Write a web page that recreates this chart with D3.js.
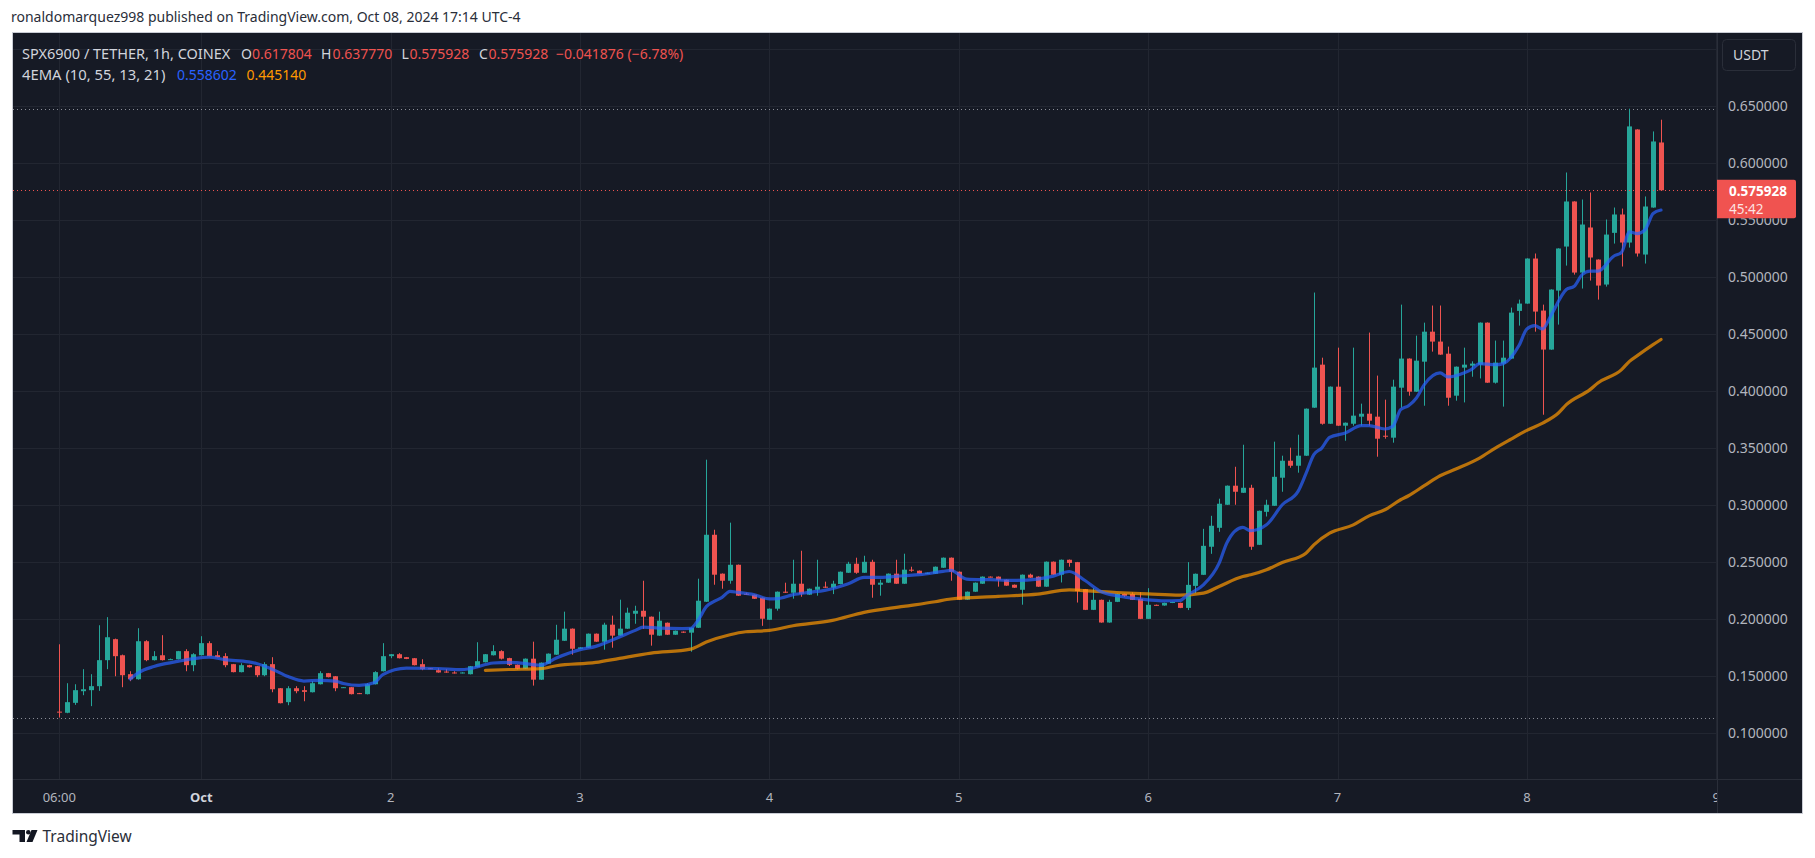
<!DOCTYPE html>
<html><head><meta charset="utf-8">
<script src="https://cdn.jsdelivr.net/npm/d3@7"></script>
<style>
html,body{margin:0;padding:0;background:#fff;overflow:hidden;}
svg{display:block;}
text{font-family:"Noto Sans",sans-serif;}
</style></head><body>
<svg id="c" width="1815" height="858"></svg>
<script>
// ---------- DATA (1h candles, SPX6900/USDT, from Sep 30 06:00) ----------
const startTime = Date.UTC(2024, 8, 30, 6);   // first candle
const hourMs = 3600e3;

const opens = [
.1190,.1180,.1267,.1369,.1378,.1413,.1641,.1825,.1684,.1518,
.1474,.1807,.1641,.1684,.1645,.1649,.1720,.1597,.1684,.1790,
.1684,.1676,.1606,.1536,.1597,.1588,.1509,.1606,.1395,.1273,
.1395,.1378,.1360,.1430,.1527,.1500,.1401,.1404,.1352,.1343,
.1430,.1544,.1676,.1693,.1667,.1658,.1606,.1570,.1553,.1541,
.1533,.1527,.1518,.1579,.1623,.1684,.1720,.1659,.1601,.1566,
.1654,.1470,.1610,.1689,.1811,.1917,.1741,.1750,.1873,.1803,
.1952,.1856,.1917,.2048,.2074,.2022,.1856,.1969,.1864,.1891,
.1882,.1925,.2153,.2740,.2399,.2337,.2477,.2223,.2214,.2188,
.1995,.2092,.2241,.2232,.2311,.2215,.2258,.2285,.2276,.2308,
.2407,.2486,.2407,.2503,.2302,.2320,.2399,.2311,.2434,.2425,
.2399,.2399,.2451,.2539,.2416,.2171,.2241,.2311,.2373,.2373,
.2346,.2302,.2258,.2390,.2373,.2285,.2504,.2390,.2521,.2500,
.2263,.2082,.2170,.1971,.2152,.2222,.2222,.2178,.2003,.2126,
.2120,.2143,.2143,.2099,.2292,.2389,.2635,.2801,.3003,.3170,
.3108,.3152,.2652,.2941,.2994,.3240,.3389,.3345,.3433,.3854,
.4231,.3713,.4038,.3696,.3713,.3775,.3801,.3775,.3608,.3591,
.4029,.4284,.3994,.4257,.4520,.4433,.4327,.3959,.4205,.4222,
.4231,.4599,.4073,.4240,.4284,.4702,.4766,.5161,.4705,.4363,
.4880,.5266,.5661,.5038,.5433,.5152,.4933,.5386,.5547,.5301,
.6292,.5196,.5608,.617804];

const highs = [
.1780,.1439,.1430,.1562,.1518,.1947,.2018,.1830,.1690,.1544,
.1921,.1816,.1720,.1860,.1655,.1722,.1737,.1702,.1851,.1807,
.1720,.1702,.1608,.1614,.1600,.1590,.1623,.1667,.1397,.1413,
.1413,.1413,.1457,.1544,.1529,.1502,.1406,.1406,.1354,.1439,
.1544,.1790,.1695,.1702,.1669,.1660,.1649,.1572,.1570,.1562,
.1544,.1535,.1590,.1798,.1695,.1772,.1728,.1662,.1603,.1656,
.1803,.1621,.1700,.1951,.2066,.1919,.1755,.1875,.1875,.1969,
.2031,.2171,.2101,.2118,.2337,.2024,.2066,.1971,.1901,.1893,
.1927,.2355,.3398,.2784,.2401,.2846,.2479,.2232,.2216,.2190,
.2094,.2243,.2320,.2521,.2600,.2269,.2521,.2329,.2337,.2418,
.2503,.2539,.2556,.2521,.2346,.2401,.2521,.2574,.2460,.2427,
.2409,.2462,.2541,.2541,.2418,.2243,.2322,.2375,.2375,.2375,
.2348,.2304,.2392,.2399,.2375,.2506,.2506,.2523,.2523,.2502,
.2265,.2272,.2172,.2170,.2224,.2224,.2236,.2236,.2272,.2128,
.2145,.2153,.2145,.2500,.2400,.2792,.2906,.3056,.3172,.3336,
.3529,.3178,.2952,.3047,.3556,.3433,.3503,.3617,.3847,.4863,
.4292,.4040,.4380,.3724,.4380,.3889,.4512,.4135,.3924,.4099,
.4757,.4286,.4485,.4599,.4749,.4749,.4389,.4215,.4380,.4260,
.4601,.4601,.4442,.4442,.4731,.4801,.5163,.5205,.4757,.4891,
.5251,.5915,.5663,.5678,.5740,.5154,.5503,.5608,.5599,.6474,
.6294,.5705,.6275,.637770];

const lows = [
.1138,.1176,.1249,.1334,.1238,.1372,.1562,.1500,.1404,.1457,
.1470,.1632,.1638,.1638,.1642,.1647,.1544,.1544,.1682,.1674,
.1665,.1579,.1534,.1534,.1576,.1492,.1500,.1360,.1262,.1246,
.1351,.1281,.1358,.1428,.1490,.1369,.1399,.1341,.1344,.1341,
.1428,.1542,.1658,.1656,.1650,.1595,.1553,.1563,.1531,.1531,
.1524,.1525,.1516,.1577,.1621,.1682,.1647,.1590,.1560,.1564,
.1418,.1468,.1608,.1687,.1809,.1689,.1739,.1748,.1801,.1733,
.1750,.1854,.1915,.1960,.1915,.1768,.1854,.1862,.1862,.1880,
.1715,.1923,.2151,.2302,.2267,.2311,.2204,.2212,.2177,.1942,
.1993,.2075,.2230,.2180,.2197,.2213,.2206,.2274,.2220,.2306,
.2405,.2398,.2405,.2188,.2206,.2318,.2309,.2309,.2416,.2397,
.2397,.2397,.2449,.2337,.2169,.2169,.2239,.2309,.2366,.2285,
.2292,.2274,.2127,.2362,.2283,.2283,.2388,.2322,.2460,.2146,
.2080,.2080,.1969,.1969,.2150,.2195,.2168,.2001,.2001,.2118,
.2118,.2141,.2097,.2080,.2228,.2387,.2573,.2766,.3001,.3003,
.3106,.2608,.2650,.2900,.2992,.3117,.3327,.3284,.3431,.3852,
.3705,.3711,.3694,.3564,.3696,.3696,.3696,.3424,.3582,.3547,
.3854,.3959,.3992,.3871,.4345,.4317,.3871,.3915,.3900,.4125,
.4110,.4071,.4065,.3863,.4282,.4573,.4764,.4520,.3792,.4361,
.4582,.5099,.5020,.4898,.4968,.4801,.4915,.5292,.5091,.5257,
.5178,.5117,.5606,.575928];

const closes = [
.1186,.1273,.1378,.1386,.1413,.1641,.1842,.1676,.1509,.1474,
.1807,.1641,.1676,.1641,.1650,.1720,.1597,.1693,.1790,.1676,
.1667,.1597,.1536,.1597,.1579,.1509,.1606,.1386,.1264,.1395,
.1369,.1363,.1439,.1527,.1492,.1395,.1404,.1343,.1346,.1430,
.1536,.1676,.1693,.1658,.1652,.1597,.1562,.1565,.1533,.1533,
.1527,.1533,.1588,.1632,.1693,.1720,.1654,.1600,.1566,.1654,
.1470,.1619,.1698,.1820,.1917,.1741,.1753,.1873,.1803,.1952,
.1856,.1917,.2057,.2074,.2022,.1864,.1987,.1864,.1899,.1882,
.1925,.2162,.2740,.2390,.2337,.2477,.2206,.2215,.2179,.2004,
.2092,.2241,.2232,.2311,.2223,.2267,.2285,.2276,.2311,.2416,
.2486,.2407,.2503,.2302,.2320,.2399,.2311,.2434,.2425,.2399,
.2407,.2460,.2539,.2416,.2171,.2241,.2320,.2373,.2368,.2346,
.2294,.2276,.2390,.2364,.2285,.2504,.2390,.2521,.2493,.2246,
.2082,.2170,.1971,.2152,.2222,.2205,.2170,.2003,.2126,.2120,
.2143,.2151,.2099,.2301,.2398,.2643,.2819,.3012,.3170,.3117,
.3152,.2635,.2950,.3003,.3248,.3389,.3345,.3433,.3845,.4205,
.3713,.4038,.3696,.3722,.3784,.3801,.3740,.3582,.3602,.4038,
.4284,.3994,.4266,.4520,.4433,.4319,.3941,.4213,.4231,.4240,
.4599,.4073,.4249,.4292,.4687,.4766,.5161,.4696,.4363,.4889,
.5249,.5661,.5038,.5459,.5170,.4924,.5371,.5547,.5301,.6319,
.5205,.5617,.6187,.575928];

// EMA(10): [candle index, value]
const emaFast = [
[9,.1476],[10,.1530],[12,.1585],[13,.1604],[15,.1630],[18,.1663],[19,.1668],[21,.1645],[24,.1626],[25,.1612],
[27,.1562],[29,.1497],[31,.1458],[33,.1464],[35,.1457],[36,.1437],[38,.1420],[40,.1446],[41,.1515],[44,.1572],
[48,.1568],[51,.1558],[52,.1566],[55,.1616],[57,.1622],[58,.1619],[61,.1598],[63,.1660],[66,.1733],[68,.1762],
[70,.1815],[73,.1902],[74,.1930],[76,.1922],[79,.1918],[80,.1919],[81,.1995],[82,.2110],[83,.2156],[84,.2191],
[85,.2244],[86,.2235],[88,.2215],[90,.2178],[91,.2180],[93,.2215],[95,.2235],[97,.2253],[100,.2311],[102,.2366],
[104,.2366],[107,.2381],[109,.2390],[112,.2419],[113,.2428],[115,.2352],[118,.2346],[121,.2340],[124,.2352],[126,.2378],
[128,.2418],[130,.2339],[132,.2243],[134,.2205],[136,.2184],[138,.2170],[140,.2161],[142,.2164],[143,.2213],[145,.2301],
[147,.2491],[148,.2673],[150,.2804],[151,.2775],[153,.2827],[155,.3003],[157,.3120],[158,.3275],[159,.3442],[160,.3500],
[161,.3594],[163,.3632],[165,.3696],[166,.3696],[168,.3667],[169,.3690],[170,.3836],[171,.3871],[172,.3939],[173,.4056],
[175,.4158],[176,.4123],[178,.4158],[179,.4190],[180,.4240],[182,.4230],[183,.4240],[185,.4398],[186,.4544],[187,.4573],
[188,.4544],[189,.4655],[191,.4889],[192,.4918],[193,.5020],[194,.5050],[195,.5050],[197,.5181],[198,.5216],[199,.5395],
[200,.5380],[201,.5415],[202,.5556],[203,.558602]];

// EMA(55): [candle index, value]
const emaSlow = [
[54,.1552],[57,.1559],[61,.1566],[63,.1592],[68,.1621],[71,.1657],[75,.1703],[80,.1738],[82,.1800],[85,.1864],
[87,.1890],[90,.1902],[93,.1943],[98,.1990],[102,.2060],[107,.2112],[111,.2153],[113,.2177],[119,.2200],[124,.2220],
[128,.2257],[130,.2251],[134,.2234],[138,.2222],[142,.2211],[145,.2228],[147,.2287],[150,.2374],[151,.2389],[153,.2433],
[155,.2497],[158,.2579],[159,.2652],[161,.2754],[164,.2827],[166,.2906],[168,.2959],[170,.3047],[171,.3082],[173,.3170],
[175,.3257],[177,.3316],[180,.3412],[182,.3500],[184,.3579],[186,.3655],[188,.3719],[190,.3807],[191,.3880],[194,.4012],
[195,.4070],[198,.4187],[199,.4260],[200,.4310],[202,.4406],[203,.445140]];

const priceTicks = [0.10,0.15,0.20,0.25,0.30,0.35,0.40,0.45,0.50,0.55,0.60,0.65];
const priceGrid  = [0.10,0.15,0.20,0.25,0.30,0.35,0.40,0.45,0.50,0.55,0.60,0.65,0.70];
const timeTicks = [Date.UTC(2024,8,30,6),Date.UTC(2024,9,1),Date.UTC(2024,9,2),Date.UTC(2024,9,3),Date.UTC(2024,9,4),
                   Date.UTC(2024,9,5),Date.UTC(2024,9,6),Date.UTC(2024,9,7),Date.UTC(2024,9,8),Date.UTC(2024,9,9)];
const timeLabels = ["06:00","Oct","2","3","4","5","6","7","8","9"];

const headerText = "ronaldomarquez998 published on TradingView.com, Oct 08, 2024 17:14 UTC-4";
const symbolText = "SPX6900 / TETHER, 1h, COINEX";
const emaTitle = "4EMA (10, 55, 13, 21)";
const lastPrice = 0.575928, countdown = "45:42";
const change = -0.041876, changePct = -6.78;

// ---------- LAYOUT ----------
const W = 1815, H = 858;
const panel = {x0: 13, y0: 33, x1: 1802, y1: 813};
const plot = {x0: 13, y0: 33, x1: 1717, y1: 779};
const col = {bg:"#161a25", grid:"#222631", sep:"#2a2e39", text:"#b2b5be", up:"#26a69a", down:"#ef5350",
             blue:"#2962ff", orange:"#ff9800"};

const times = opens.map((_, i) => new Date(startTime + i * hourMs));
const x = d3.scaleUtc().domain([times[0], times[times.length-1]]).range([59.3, 1661]);
const y = d3.scaleLinear().domain([0.10, 0.65]).range([733.3, 105.75]);
const fmt = d3.format(".6f");

const svg = d3.select("#c");
svg.append("rect").attr("width", W).attr("height", H).attr("fill", "#fff");

// header
svg.append("text").attr("x", 11).attr("y", 22).attr("font-size", 14).attr("fill", "#2a2e39").text(headerText);

// panel
svg.append("rect").attr("x", panel.x0 - 0.5).attr("y", panel.y0 - 0.5)
  .attr("width", panel.x1 - panel.x0 + 1).attr("height", panel.y1 - panel.y0 + 1)
  .attr("fill", col.bg).attr("stroke", "#c9ccd4").attr("stroke-width", 1);

const ly = y(lastPrice);
const boxTop = ly - 10.5, boxBot = ly + 28;

const defs = svg.append("defs");
defs.append("clipPath").attr("id", "pc").append("rect")
  .attr("x", plot.x0).attr("y", plot.y0).attr("width", plot.x1 - plot.x0).attr("height", plot.y1 - plot.y0);
defs.append("clipPath").attr("id", "tc").append("rect")
  .attr("x", plot.x0).attr("y", plot.y1).attr("width", plot.x1 - plot.x0).attr("height", panel.y1 - plot.y1);
// price labels hidden behind the last-price box
defs.append("clipPath").attr("id", "lc").append("path")
  .attr("d", `M1717,${plot.y0}H1802V${boxTop}H1717Z M1717,${boxBot}H1802V${plot.y1}H1717Z`);

const g = svg.append("g").attr("clip-path", "url(#pc)");

// grid
g.selectAll(".hg").data(priceGrid).join("line")
  .attr("x1", plot.x0).attr("x2", plot.x1)
  .attr("y1", d => Math.round(y(d)) + 0.5).attr("y2", d => Math.round(y(d)) + 0.5)
  .attr("stroke", col.grid).attr("stroke-width", 1);
g.selectAll(".vg").data(timeTicks).join("line")
  .attr("x1", d => Math.round(x(new Date(d))) + 0.5).attr("x2", d => Math.round(x(new Date(d))) + 0.5)
  .attr("y1", plot.y0).attr("y2", plot.y1)
  .attr("stroke", col.grid).attr("stroke-width", 1);

// high / low range lines
const hi = d3.max(highs), lo = d3.min(lows);
[hi, lo].forEach(v => {
  g.append("line").attr("x1", plot.x0).attr("x2", plot.x1)
    .attr("y1", Math.round(y(v)) + 0.5).attr("y2", Math.round(y(v)) + 0.5)
    .attr("stroke", "#8a8d97").attr("stroke-width", 1).attr("stroke-dasharray", "1,3");
});

// candles
const idx = d3.range(opens.length);
const bodyW = 5;
g.selectAll(".wick").data(idx).join("line")
  .attr("x1", i => Math.round(x(times[i])) + 0.5).attr("x2", i => Math.round(x(times[i])) + 0.5)
  .attr("y1", i => y(highs[i])).attr("y2", i => y(lows[i]))
  .attr("stroke", i => closes[i] >= opens[i] ? col.up : col.down).attr("stroke-width", 1);
g.selectAll(".body").data(idx).join("rect")
  .attr("x", i => Math.round(x(times[i])) + 0.5 - bodyW / 2)
  .attr("y", i => y(Math.max(opens[i], closes[i])))
  .attr("width", bodyW)
  .attr("height", i => Math.max(1, Math.abs(y(opens[i]) - y(closes[i]))))
  .attr("fill", i => closes[i] >= opens[i] ? col.up : col.down);

// EMA lines
const line = d3.line().x(d => x(times[d[0]])).y(d => y(d[1])).curve(d3.curveMonotoneX);
g.append("path").attr("d", line(emaSlow)).attr("fill", "none")
  .attr("stroke", col.orange).attr("stroke-opacity", 0.7).attr("stroke-width", 3.2)
  .attr("stroke-linejoin", "round").attr("stroke-linecap", "round");
g.append("path").attr("d", line(emaFast)).attr("fill", "none")
  .attr("stroke", col.blue).attr("stroke-opacity", 0.7).attr("stroke-width", 3.2)
  .attr("stroke-linejoin", "round").attr("stroke-linecap", "round");

// last price line
g.append("line").attr("x1", plot.x0).attr("x2", plot.x1)
  .attr("y1", Math.round(ly) + 0.5).attr("y2", Math.round(ly) + 0.5)
  .attr("stroke", col.down).attr("stroke-width", 1).attr("stroke-dasharray", "1,3");

// separators
svg.append("line").attr("x1", plot.x1 + 0.5).attr("x2", plot.x1 + 0.5).attr("y1", panel.y0).attr("y2", panel.y1)
  .attr("stroke", col.sep);
svg.append("line").attr("x1", panel.x0).attr("x2", panel.x1).attr("y1", plot.y1 + 0.5).attr("y2", plot.y1 + 0.5)
  .attr("stroke", col.sep);

// price axis
svg.append("g").attr("clip-path", "url(#lc)").selectAll("text").data(priceTicks).join("text")
  .attr("x", 1728).attr("y", d => y(d)).attr("dy", "0.35em")
  .attr("font-size", 14).attr("fill", col.text).text(d => fmt(d));

// time axis
svg.append("g").attr("clip-path", "url(#tc)").selectAll("text").data(timeTicks).join("text")
  .attr("x", d => x(new Date(d))).attr("y", 797).attr("dy", "0.35em").attr("text-anchor", "middle")
  .attr("font-size", 13).attr("fill", (d, i) => i === 1 ? "#d1d4dc" : col.text)
  .attr("font-weight", (d, i) => i === 1 ? "bold" : "normal")
  .text((d, i) => timeLabels[i]);

// USDT box
svg.append("rect").attr("x", 1722.5).attr("y", 39.5).attr("width", 73).attr("height", 31).attr("rx", 4)
  .attr("fill", col.bg).attr("stroke", "#2a2e39");
svg.append("text").attr("x", 1733).attr("y", 55).attr("dy", "0.35em").attr("font-size", 14)
  .attr("fill", "#d1d4dc").text("USDT");

// last price label
(() => {
  const p = d3.path(); const x0 = 1717, x1 = 1796, r = 2;
  p.moveTo(x0, boxTop); p.lineTo(x1 - r, boxTop); p.quadraticCurveTo(x1, boxTop, x1, boxTop + r);
  p.lineTo(x1, boxBot - r); p.quadraticCurveTo(x1, boxBot, x1 - r, boxBot); p.lineTo(x0, boxBot); p.closePath();
  svg.append("path").attr("d", p.toString()).attr("fill", "#f05350");
})();
svg.append("text").attr("x", 1729).attr("y", ly + 1).attr("dy", "0.35em").attr("font-size", 13.5)
  .attr("font-weight", "bold").attr("fill", "#fff").text(fmt(lastPrice));
svg.append("text").attr("x", 1729).attr("y", ly + 19).attr("dy", "0.35em").attr("font-size", 13.5)
  .attr("fill", "#fff").attr("fill-opacity", 0.85).text(countdown);

// legend row 1
const n = opens.length - 1;
const lgd = svg.append("g").attr("font-size", 14);
lgd.append("text").attr("x", 22).attr("y", 54).attr("dy", "0.35em").attr("font-size", 14.5)
  .attr("fill", "#d1d4dc").text(symbolText);
const ohlc = [["O", opens[n], 241, 252], ["H", highs[n], 321, 332.5], ["L", lows[n], 401.5, 409.5], ["C", closes[n], 479, 488.5]];
ohlc.forEach(([k, v, kx, vx]) => {
  lgd.append("text").attr("x", kx).attr("y", 54).attr("dy", "0.35em").attr("fill", "#d1d4dc").text(k);
  lgd.append("text").attr("x", vx).attr("y", 54).attr("dy", "0.35em").attr("fill", col.down).text(fmt(v));
});
lgd.append("text").attr("x", 556).attr("y", 54).attr("dy", "0.35em").attr("fill", col.down)
  .text("\u2212" + fmt(Math.abs(change)) + " (\u2212" + Math.abs(changePct).toFixed(2) + "%)");

// legend row 2
lgd.append("text").attr("x", 22).attr("y", 75).attr("dy", "0.35em").attr("font-size", 14.8)
  .attr("fill", "#d1d4dc").text(emaTitle);
lgd.append("text").attr("x", 177).attr("y", 75).attr("dy", "0.35em").attr("fill", col.blue)
  .text(fmt(emaFast[emaFast.length-1][1]));
lgd.append("text").attr("x", 246.5).attr("y", 75).attr("dy", "0.35em").attr("fill", col.orange)
  .text(fmt(emaSlow[emaSlow.length-1][1]));

// TradingView logo + text
const lg = svg.append("g").attr("fill", "#131722");
lg.append("path").attr("d", "M12.5,830 H25 V842 H19.5 V834.5 H12.5 Z");
lg.append("circle").attr("cx", 28.3).attr("cy", 832.3).attr("r", 2.3);
lg.append("path").attr("d", "M31.5,830 H37.5 L32.5,842 H26.5 Z");
svg.append("text").attr("x", 42.5).attr("y", 836.5).attr("dy", "0.35em").attr("font-size", 15.5)
  .attr("fill", "#2a2e39").text("TradingView");
</script>
</body></html>
